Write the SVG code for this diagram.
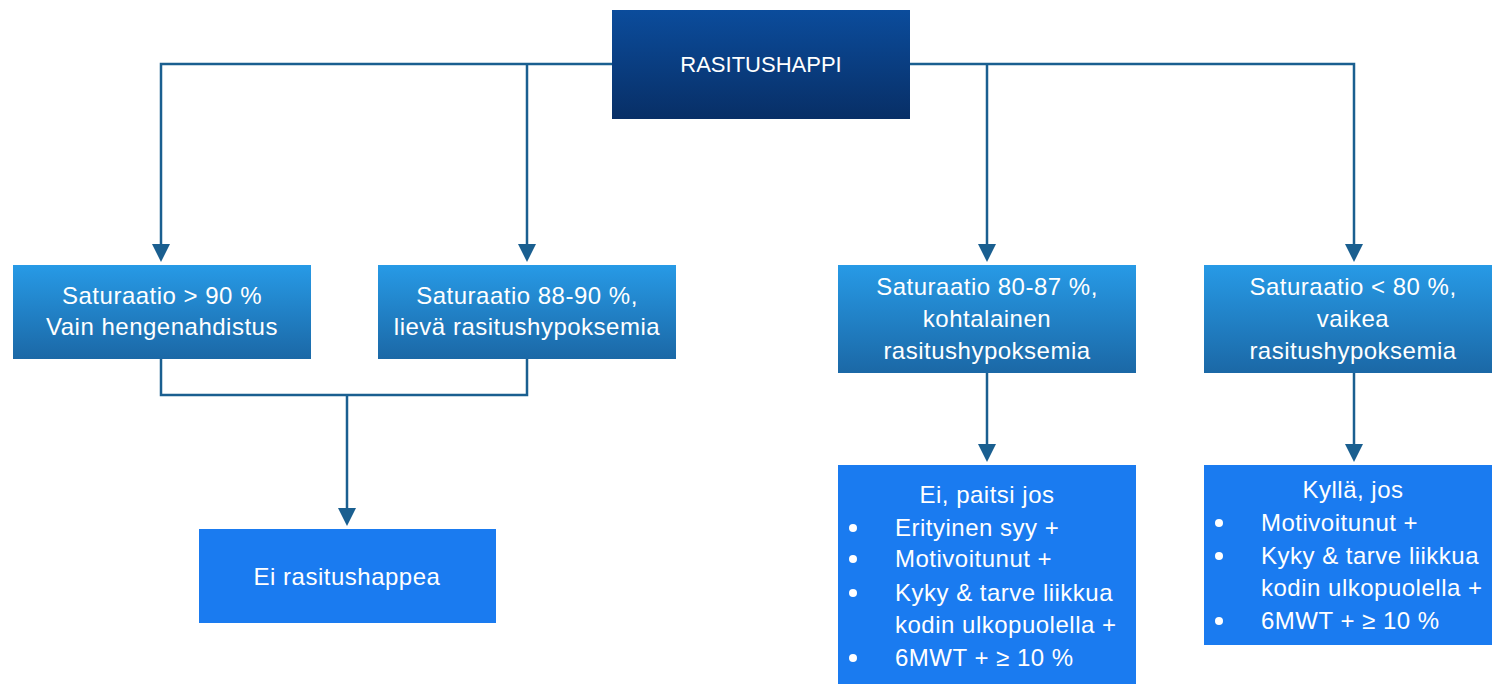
<svg xmlns="http://www.w3.org/2000/svg" width="1492" height="684" viewBox="0 0 1492 684">
<defs>
<linearGradient id="gTop" x1="0" y1="0" x2="0" y2="1"><stop offset="0" stop-color="#0b4c9c"/><stop offset="1" stop-color="#082f66"/></linearGradient>
<linearGradient id="gMid" x1="0" y1="0" x2="0" y2="1"><stop offset="0" stop-color="#279ae6"/><stop offset="1" stop-color="#1b68a6"/></linearGradient>
<style>
.t{font-family:"Liberation Sans",Arial,sans-serif;font-size:24px;letter-spacing:0.5px;fill:#ffffff;}
.c{text-anchor:middle;}
.ln{fill:none;stroke:#1a5f90;stroke-width:2.5;}
.ah{fill:#1a5f90;}
.bot{fill:#1a7bf0;}
</style>
</defs>
<g id="connectors">
<path class="ln" d="M612,64 H161 V246"/>
<path class="ln" d="M527,64 V246"/>
<path class="ln" d="M910,64 H1354 V246"/>
<path class="ln" d="M987,64 V246"/>
<path class="ln" d="M161,359 V395 H527 V359"/>
<path class="ln" d="M347,395 V510"/>
<path class="ln" d="M987,373 V446"/>
<path class="ln" d="M1354,373 V446"/>
<path class="ah" d="M152,244 L170,244 L161,262 Z"/>
<path class="ah" d="M518,244 L536,244 L527,262 Z"/>
<path class="ah" d="M978,244 L996,244 L987,262 Z"/>
<path class="ah" d="M1345,244 L1363,244 L1354,262 Z"/>
<path class="ah" d="M338,508 L356,508 L347,526 Z"/>
<path class="ah" d="M978,444 L996,444 L987,462 Z"/>
<path class="ah" d="M1345,444 L1363,444 L1354,462 Z"/>
</g>
<g id="top">
<rect x="612" y="10" width="298" height="109" fill="url(#gTop)"/>
<text class="t c" x="761" y="72" style="font-size:22px;letter-spacing:0">RASITUSHAPPI</text>
</g>
<g id="mid1">
<rect x="13" y="265" width="298" height="94" fill="url(#gMid)"/>
<text class="t c" x="162" y="304">Saturaatio &gt; 90 %</text>
<text class="t c" x="162" y="335">Vain hengenahdistus</text>
</g>
<g id="mid2">
<rect x="378" y="265" width="298" height="94" fill="url(#gMid)"/>
<text class="t c" x="527" y="304">Saturaatio 88-90 %,</text>
<text class="t c" x="527" y="335">lievä rasitushypoksemia</text>
</g>
<g id="mid3">
<rect x="838" y="265" width="298" height="108" fill="url(#gMid)"/>
<text class="t c" x="987" y="295">Saturaatio 80-87 %,</text>
<text class="t c" x="987" y="327">kohtalainen</text>
<text class="t c" x="987" y="359">rasitushypoksemia</text>
</g>
<g id="mid4">
<rect x="1204" y="265" width="300" height="108" fill="url(#gMid)"/>
<text class="t c" x="1353" y="295">Saturaatio &lt; 80 %,</text>
<text class="t c" x="1353" y="327">vaikea</text>
<text class="t c" x="1353" y="359">rasitushypoksemia</text>
</g>
<g id="bot1">
<rect class="bot" x="199" y="529" width="297" height="94"/>
<text class="t c" x="347" y="585">Ei rasitushappea</text>
</g>
<g id="bot3">
<rect class="bot" x="838" y="465" width="298" height="219"/>
<text class="t c" x="987" y="503">Ei, paitsi jos</text>
<circle cx="853" cy="528" r="4" fill="#fff"/><text class="t" x="895" y="536">Erityinen syy +</text>
<circle cx="853" cy="559" r="4" fill="#fff"/><text class="t" x="895" y="567">Motivoitunut +</text>
<circle cx="853" cy="593" r="4" fill="#fff"/><text class="t" x="895" y="601">Kyky &amp; tarve liikkua</text>
<text class="t" x="895" y="633">kodin ulkopuolella +</text>
<circle cx="853" cy="658" r="4" fill="#fff"/><text class="t" x="895" y="666">6MWT + ≥ 10 %</text>
</g>
<g id="bot4">
<rect class="bot" x="1204" y="465" width="300" height="180"/>
<text class="t c" x="1353" y="498">Kyllä, jos</text>
<circle cx="1219" cy="523" r="4" fill="#fff"/><text class="t" x="1261" y="531">Motivoitunut +</text>
<circle cx="1219" cy="556" r="4" fill="#fff"/><text class="t" x="1261" y="564">Kyky &amp; tarve liikkua</text>
<text class="t" x="1261" y="596">kodin ulkopuolella +</text>
<circle cx="1219" cy="621" r="4" fill="#fff"/><text class="t" x="1261" y="629">6MWT + ≥ 10 %</text>
</g>
</svg>
